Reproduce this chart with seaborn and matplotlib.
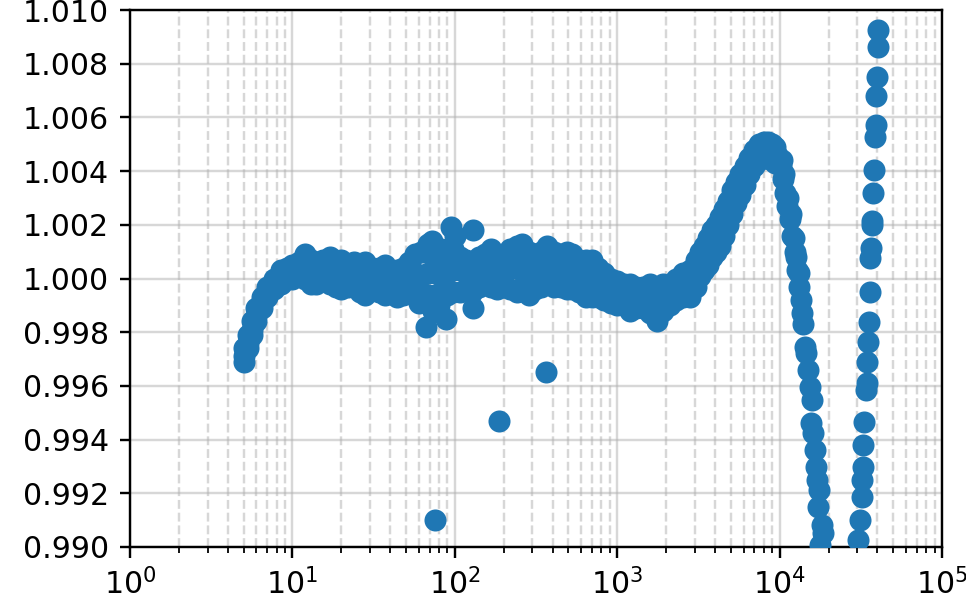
import numpy as np
import pandas as pd
import seaborn as sns
import matplotlib.pyplot as plt
from matplotlib.ticker import MultipleLocator, FormatStrFormatter

# main band: x positions with centre / upper / lower readings
band_x = [5.0, 5.3, 5.6, 6.0, 6.5, 7.0, 7.7, 8.5, 9.3, 10, 11, 12, 13, 14, 15.5, 17, 18.5,
          20, 22, 24, 26, 28, 31, 34, 37, 40, 44, 48, 52, 57, 62, 68, 75, 82, 90, 98,
          107, 117, 128, 140, 153, 167, 183, 200, 220, 240, 260, 285, 310, 340, 370,
          410, 450, 490, 530, 580, 640, 700, 760, 830, 910, 1000, 1100, 1200, 1300,
          1450, 1600, 1750, 1900, 2100, 2300, 2550,
          2800, 3050, 3240, 3400, 3600, 3850, 4050, 4300, 4550, 4800, 5100, 5400, 5700,
          6100, 6500, 7000, 7500, 8000, 8500, 9000, 9400]
band_mid = [0.9971, 0.9976, 0.9981, 0.9986, 0.9991, 0.9995, 0.9998, 1.0000, 1.0001, 1.0002,
            1.0003, 1.0004, 1.0003, 1.0002, 1.0003, 1.0002, 1.0002, 1.0002, 1.0001, 1.0002,
            1.0000, 1.0001, 1.0001, 1.0000, 1.0000, 1.0000, 0.9999, 0.9999, 1.0000, 1.0002,
            1.0001, 1.0002, 1.0002, 1.0003, 1.0002, 1.0003, 1.0003, 1.0002, 1.0002, 1.0004,
            1.0003, 1.0004, 1.0003, 1.0004, 1.0004, 1.0004, 1.0005, 1.0003, 1.0004, 1.0004,
            1.0005, 1.0004, 1.0004, 1.0004, 1.0003, 1.0002, 1.0001, 1.0000, 0.9999, 0.9998,
            0.9996, 0.9995, 0.9994, 0.9993, 0.9993, 0.9993, 0.9992, 0.9991, 0.9993, 0.9994,
            0.9996, 0.9997,
            0.9998, 1.0002, 1.0005, 1.0008, 1.0010, 1.0013, 1.0016, 1.0018, 1.0022, 1.0025,
            1.0029, 1.0032, 1.0035, 1.0039, 1.0043, 1.0046, 1.0048, 1.0049, 1.0050, 1.0049,
            1.0047]
band_hi = [0.9974, 0.9979, 0.9984, 0.9989, 0.9993, 0.9997, 1.0000, 1.0003, 1.0004, 1.0005,
           1.0006, 1.0009, 1.0007, 1.0006, 1.0007, 1.0008, 1.0006, 1.0007, 1.0005, 1.0006,
           1.0004, 1.0006, 1.0004, 1.0004, 1.0005, 1.0003, 1.0003, 1.0004, 1.0006, 1.0009,
           1.0010, 1.0010, 1.0009, 1.0011, 1.0010, 1.0011, 1.0008, 1.0007, 1.0006, 1.0008,
           1.0009, 1.0011, 1.0008, 1.0009, 1.0011, 1.0012, 1.0013, 1.0010, 1.0009, 1.0010,
           1.0012, 1.0010, 1.0009, 1.0010, 1.0009, 1.0007, 1.0007, 1.0007, 1.0004, 1.0002,
           1.0000, 0.9999, 0.9998, 0.9998, 0.9997, 0.9997, 0.9998, 0.9997, 0.9998, 0.9998,
           1.0000, 1.0002,
           1.0003, 1.0007, 1.0010, 1.0012, 1.0015, 1.0018, 1.0020, 1.0023, 1.0026, 1.0029,
           1.0033, 1.0036, 1.0039, 1.0042, 1.0045, 1.0048, 1.0050, 1.0051, 1.0051, 1.0050,
           1.0049]
band_lo = [0.9969, 0.9974, 0.9979, 0.9984, 0.9989, 0.9993, 0.9996, 0.9998, 1.0000, 1.0000,
           1.0001, 1.0000, 0.9998, 0.9998, 0.9999, 0.9998, 0.9997, 0.9996, 0.9997, 0.9997,
           0.9995, 0.9994, 0.9996, 0.9995, 0.9994, 0.9995, 0.9993, 0.9994, 0.9995, 0.9994,
           0.9994, 0.9994, 0.9994, 0.9995, 0.9994, 0.9995, 0.9995, 0.9996, 0.9995, 0.9997,
           0.9998, 0.9997, 0.9996, 0.9997, 0.9996, 0.9995, 0.9997, 0.9994, 0.9996, 0.9997,
           0.9998, 0.9997, 0.9997, 0.9996, 0.9996, 0.9995, 0.9993, 0.9993, 0.9993, 0.9992,
           0.9991, 0.9990, 0.9990, 0.9988, 0.9989, 0.9989, 0.9987, 0.9984, 0.9988, 0.9990,
           0.9992, 0.9993,
           0.9993, 0.9997, 1.0001, 1.0003, 1.0005, 1.0008, 1.0010, 1.0012, 1.0016, 1.0020,
           1.0024, 1.0028, 1.0031, 1.0035, 1.0039, 1.0042, 1.0044, 1.0045, 1.0045, 1.0044,
           1.0043]

# drop after the peak
fall_x = [9700, 10000, 10200, 10300, 10500, 10700, 10800, 11100, 11300, 11540, 11800, 12000,
          12300, 12440, 12700, 12800, 13100, 13160, 13450, 13730, 13940, 14340, 14540, 14960,
          15390, 15830, 15610, 16060, 16520, 16750, 16990, 17480, 17240, 18250, 18510, 17740]
fall_y = [1.0046, 1.0044, 1.0042, 1.0044, 1.0037, 1.0039, 1.0032, 1.0027, 1.0030, 1.0022,
          1.0024, 1.0016, 1.0015, 1.0010, 1.0008, 1.0003, 1.0002, 0.9997, 0.9992, 0.9987,
          0.9983, 0.99745, 0.99722, 0.99659, 0.99596, 0.99548, 0.99462, 0.99425, 0.99361,
          0.99298, 0.99250, 0.99212, 0.99149, 0.99082, 0.99052, 0.99008]

# second branch on the far right
tail_x = [30400, 31300, 32200, 32200, 32600, 32600, 33100, 34000, 34500, 34500, 35000, 35500,
          36000, 36000, 36600, 37100, 37100, 37600, 38200, 38700, 39300, 39300, 39900, 40400,
          40400]
tail_y = [0.99026, 0.99100, 0.99186, 0.99250, 0.99298, 0.99380, 0.99466, 0.99585, 0.99610,
          0.99689, 0.99764, 0.99838, 0.99950, 1.00076, 1.00114, 1.00199, 1.00215, 1.00318,
          1.00404, 1.00527, 1.00572, 1.00680, 1.00750, 1.00862, 1.00926]

# isolated points
stray_x = [66, 73, 88, 129, 60, 80, 75.5, 187, 364, 95, 129, 100, 68, 72]
stray_y = [0.9982, 0.9988, 0.9985, 0.9989, 0.9991, 0.9990, 0.9910, 0.9947, 0.9965, 1.0019,
           1.0018, 1.0016, 1.0013, 1.0014]

df = pd.DataFrame({
    'x': band_x * 3 + fall_x + tail_x + stray_x,
    'y': band_mid + band_hi + band_lo + fall_y + tail_y + stray_y,
})

fig = plt.figure(figsize=(966 / 216, 593 / 216), dpi=216)
ax = fig.add_axes([0.1346, 0.0776, 0.8406, 0.9055])

sns.scatterplot(data=df, x='x', y='y', s=54, color='#1f77b4', linewidth=0, ax=ax, zorder=3)

ax.set_xscale('log')
ax.set_xlim(1, 1e5)
ax.set_ylim(0.990, 1.010)
ax.yaxis.set_major_locator(MultipleLocator(0.002))
ax.yaxis.set_major_formatter(FormatStrFormatter('%.3f'))
ax.grid(which='major', color='#b0b0b0', alpha=0.5, linewidth=0.8)
ax.grid(which='minor', axis='x', color='#b0b0b0', alpha=0.5, linewidth=0.8, linestyle='--')
ax.set_axisbelow(True)
ax.set_xlabel('')
ax.set_ylabel('')

fig.savefig('out.png', dpi=216)
